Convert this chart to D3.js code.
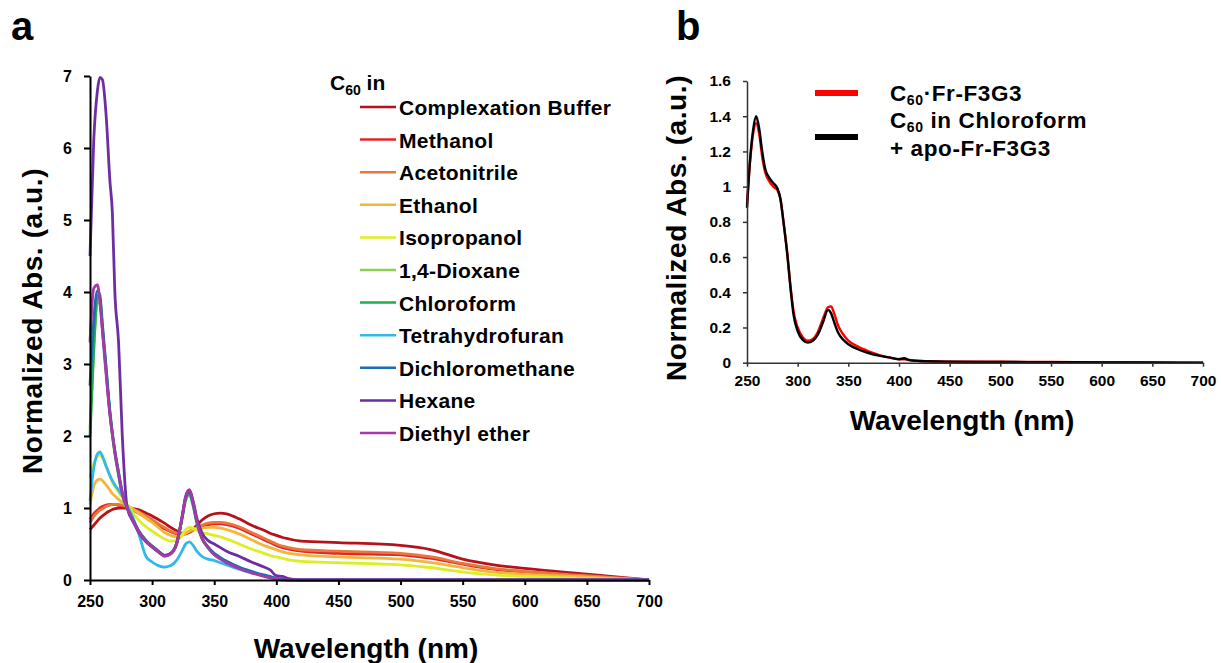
<!DOCTYPE html>
<html>
<head>
<meta charset="utf-8">
<script src="https://cdn.jsdelivr.net/npm/d3@7"></script>
<style>
  body { margin: 0; background: #fff; }
  text { font-family: "Liberation Sans", Arial, sans-serif; font-weight: bold; fill: #000; }
</style>
</head>
<body>
<div id="chart"></div>
<script>
// panel a: shared wavelength grid (nm)
const waveA = [250, 253, 256, 258, 260, 263, 266, 268, 270, 273, 276, 280, 285, 290, 295, 300, 305, 310, 315, 320, 324, 327, 330, 333, 336, 340, 345, 350, 355, 360, 370, 380, 390, 395, 400, 405, 410, 420, 450, 500, 525, 550, 575, 600, 650, 700]

const solvents = ["Complexation Buffer", "Methanol", "Acetonitrile", "Ethanol", "Isopropanol", "1,4-Dioxane", "Chloroform", "Tetrahydrofuran", "Dichloromethane", "Hexane", "Diethyl ether"]
const solventColors = ["#b5121b", "#e3242b", "#e8773c", "#f4b63a", "#dcef22", "#8dcf4f", "#21ad4d", "#33b8ec", "#1b6db4", "#6c2ea2", "#a23ba6"]

const buffer = [0.70, 0.76, 0.82, 0.86, 0.89, 0.93, 0.96, 0.98, 0.99, 1.0, 1.0, 1.0, 0.99, 0.97, 0.93, 0.89, 0.84, 0.79, 0.73, 0.68, 0.65, 0.65, 0.67, 0.71, 0.76, 0.83, 0.89, 0.92, 0.93, 0.92, 0.85, 0.76, 0.69, 0.65, 0.62, 0.59, 0.57, 0.54, 0.52, 0.48, 0.42, 0.29, 0.21, 0.16, 0.08, 0]
const methanol = [0.84, 0.92, 0.97, 1.0, 1.02, 1.04, 1.05, 1.05, 1.05, 1.04, 1.03, 1.01, 0.97, 0.92, 0.87, 0.82, 0.76, 0.71, 0.67, 0.64, 0.63, 0.64, 0.66, 0.69, 0.72, 0.75, 0.77, 0.78, 0.78, 0.77, 0.72, 0.64, 0.56, 0.52, 0.48, 0.45, 0.43, 0.4, 0.37, 0.35, 0.3, 0.22, 0.15, 0.11, 0.05, 0]
const acetonitrile = [0.8, 0.88, 0.94, 0.97, 0.99, 1.02, 1.04, 1.05, 1.05, 1.05, 1.04, 1.02, 0.98, 0.94, 0.89, 0.84, 0.78, 0.73, 0.68, 0.65, 0.64, 0.65, 0.67, 0.7, 0.73, 0.76, 0.79, 0.8, 0.8, 0.79, 0.74, 0.66, 0.58, 0.54, 0.5, 0.47, 0.45, 0.42, 0.4, 0.37, 0.32, 0.23, 0.16, 0.12, 0.06, 0]
const ethanol = [1.05, 1.3, 1.39, 1.4, 1.38, 1.32, 1.25, 1.2, 1.17, 1.12, 1.08, 1.04, 0.98, 0.92, 0.86, 0.8, 0.73, 0.66, 0.62, 0.6, 0.62, 0.65, 0.68, 0.7, 0.71, 0.72, 0.73, 0.73, 0.72, 0.7, 0.64, 0.56, 0.48, 0.45, 0.42, 0.39, 0.37, 0.35, 0.32, 0.29, 0.24, 0.17, 0.11, 0.08, 0.04, 0]
const isopropanol = [1.42, 1.62, 1.72, 1.74, 1.7, 1.58, 1.45, 1.36, 1.3, 1.22, 1.15, 1.05, 0.92, 0.82, 0.74, 0.68, 0.62, 0.57, 0.54, 0.55, 0.62, 0.7, 0.73, 0.72, 0.69, 0.66, 0.64, 0.62, 0.6, 0.57, 0.5, 0.43, 0.37, 0.34, 0.32, 0.3, 0.28, 0.26, 0.24, 0.21, 0.17, 0.11, 0.07, 0.05, 0.02, 0]
const dioxane = [2.1, 3.2, 3.85, 3.85, 3.5, 2.9, 2.32, 2.02, 1.76, 1.46, 1.18, 1.0, 0.82, 0.66, 0.55, 0.47, 0.4, 0.34, 0.37, 0.52, 0.84, 1.1, 1.18, 1.03, 0.79, 0.58, 0.45, 0.36, 0.3, 0.25, 0.17, 0.11, 0.06, 0.04, 0.02, 0.01, 0, 0, 0, 0, 0, 0, 0, 0, 0, 0]
const chloroform = [2.0, 3.2, 3.95, 3.9, 3.5, 2.9, 2.32, 2.02, 1.77, 1.46, 1.18, 1.0, 0.82, 0.66, 0.55, 0.47, 0.4, 0.34, 0.37, 0.52, 0.85, 1.12, 1.2, 1.04, 0.8, 0.58, 0.45, 0.36, 0.3, 0.25, 0.17, 0.11, 0.06, 0.04, 0.02, 0.01, 0, 0, 0, 0, 0, 0, 0, 0, 0, 0]
const thf = [1.1, 1.55, 1.75, 1.78, 1.72, 1.58, 1.45, 1.38, 1.32, 1.25, 1.17, 1.03, 0.85, 0.6, 0.33, 0.25, 0.2, 0.18, 0.2, 0.28, 0.4, 0.5, 0.53, 0.48, 0.4, 0.33, 0.29, 0.27, 0.24, 0.21, 0.15, 0.1, 0.06, 0.04, 0.02, 0.01, 0, 0, 0, 0, 0, 0, 0, 0, 0, 0]
const dcm = [2.7, 3.6, 4.02, 3.95, 3.55, 2.95, 2.35, 2.05, 1.8, 1.5, 1.22, 1.0, 0.82, 0.66, 0.55, 0.47, 0.4, 0.34, 0.37, 0.53, 0.86, 1.14, 1.22, 1.06, 0.81, 0.59, 0.46, 0.37, 0.31, 0.26, 0.18, 0.12, 0.07, 0.05, 0.02, 0.01, 0, 0, 0, 0, 0, 0, 0, 0, 0, 0]
const hexane = [4.5, 6.1, 6.8, 6.98, 6.95, 6.45, 5.55, 5.1, 4.0, 3.3, 2.0, 1.0, 0.8, 0.64, 0.53, 0.46, 0.39, 0.34, 0.37, 0.52, 0.86, 1.16, 1.25, 1.1, 0.86, 0.66, 0.55, 0.5, 0.45, 0.4, 0.33, 0.25, 0.18, 0.14, 0.06, 0.05, 0.02, 0, 0, 0, 0, 0, 0, 0, 0, 0]
const ether = [3.3, 4.05, 4.1, 3.85, 3.45, 2.85, 2.3, 2.02, 1.78, 1.48, 1.2, 1.0, 0.81, 0.65, 0.54, 0.46, 0.39, 0.33, 0.36, 0.52, 0.86, 1.15, 1.25, 1.08, 0.82, 0.59, 0.45, 0.35, 0.29, 0.24, 0.16, 0.1, 0.05, 0.03, 0.01, 0, 0, 0, 0, 0, 0, 0, 0, 0, 0, 0]
const seriesA = [buffer, methanol, acetonitrile, ethanol, isopropanol, dioxane, chloroform, thf, dcm, hexane, ether]

const yTicksA = [0, 1, 2, 3, 4, 5, 6, 7]
const xTicks = [250, 300, 350, 400, 450, 500, 550, 600, 650, 700]

// panel b
const waveB = [250, 253, 256, 259, 262, 265, 268, 272, 276, 280, 283, 286, 290, 293, 296, 300, 305, 310, 315, 320, 325, 330, 333, 336, 340, 345, 350, 360, 370, 380, 390, 400, 405, 410, 420, 450, 500, 550, 600, 650, 700]
const complexB = [0.9, 1.14, 1.3, 1.36, 1.3, 1.17, 1.08, 1.03, 1.0, 0.98, 0.93, 0.8, 0.61, 0.43, 0.29, 0.2, 0.145, 0.125, 0.135, 0.175, 0.25, 0.315, 0.32, 0.28, 0.21, 0.16, 0.125, 0.09, 0.065, 0.045, 0.03, 0.02, 0.02, 0.015, 0.01, 0.006, 0.005, 0.004, 0.003, 0.002, 0]
const chloroB = [0.88, 1.15, 1.32, 1.4, 1.33, 1.2, 1.1, 1.05, 1.02, 0.99, 0.93, 0.8, 0.6, 0.42, 0.27, 0.18, 0.13, 0.115, 0.125, 0.16, 0.23, 0.3, 0.28, 0.23, 0.17, 0.13, 0.105, 0.075, 0.055, 0.04, 0.03, 0.02, 0.025, 0.015, 0.01, 0.006, 0.004, 0.003, 0.002, 0.001, 0]
const yTicksB = [0, 0.2, 0.4, 0.6, 0.8, 1, 1.2, 1.4, 1.6]

let svg = d3.select("#chart").append("svg").attr("width", 1221).attr("height", 663)

// ---------- panel a ----------
let xA = d3.scaleLinear().domain([250, 700]).range([90, 649])
let yA = d3.scaleLinear().domain([0, 7]).range([580, 76])

let lineA = d3.line()
  .x(d => xA(d[0]))
  .y(d => yA(d[1]))
  .curve(d3.curveMonotoneX)

seriesA.forEach((vals, i) => {
  svg.append("path")
    .datum(waveA.map((w, j) => [w, vals[j]]))
    .attr("d", lineA)
    .attr("fill", "none")
    .attr("stroke", solventColors[i])
    .attr("stroke-width", 2.8)
    .attr("stroke-linejoin", "round")
})

let xAxisA = svg.append("g")
  .attr("transform", "translate(0,580)")
  .call(d3.axisBottom(xA).tickValues(xTicks).tickSize(5).tickSizeOuter(0).tickPadding(11))
let yAxisA = svg.append("g")
  .attr("transform", "translate(90,0)")
  .call(d3.axisLeft(yA).tickValues(yTicksA).tickSize(6).tickSizeOuter(0).tickPadding(12)
    .tickFormat(d3.format("d")))
;[xAxisA, yAxisA].forEach(ax => {
  ax.select(".domain").attr("stroke", "#000").attr("stroke-width", 2)
  ax.selectAll(".tick line").attr("stroke", "#000").attr("stroke-width", 2)
  ax.selectAll("text").style("font-size", "16px").attr("font-family", null)
})

svg.append("text").attr("x", 11).attr("y", 40).style("font-size", "40px").text("a")
svg.append("text")
  .attr("transform", "translate(42,321) rotate(-90)")
  .attr("text-anchor", "middle")
  .style("font-size", "28px")
  .style("letter-spacing", "0.6px")
  .text("Normalized Abs. (a.u.)")
svg.append("text")
  .attr("x", 366).attr("y", 658)
  .attr("text-anchor", "middle")
  .style("font-size", "28px")
  .text("Wavelength (nm)")

// legend a
let legTitle = svg.append("text").attr("x", 330).attr("y", 90).style("font-size", "21px")
legTitle.append("tspan").text("C")
legTitle.append("tspan").attr("dy", 5).style("font-size", "14px").text("60")
legTitle.append("tspan").attr("dy", -5).text(" in")

let legA = svg.append("g")
solvents.forEach((name, i) => {
  let y = 107 + i * 32.6
  legA.append("line")
    .attr("x1", 360).attr("x2", 396)
    .attr("y1", y).attr("y2", y)
    .attr("stroke", solventColors[i])
    .attr("stroke-width", 2.5)
  legA.append("text")
    .attr("x", 399).attr("y", y + 8)
    .style("font-size", "21px")
    .style("letter-spacing", "0.3px")
    .text(name)
})

// ---------- panel b ----------
let xB = d3.scaleLinear().domain([250, 700]).range([747, 1203])
let yB = d3.scaleLinear().domain([0, 1.6]).range([362.7, 81])

let lineB = d3.line()
  .x(d => xB(d[0]))
  .y(d => yB(d[1]))
  .curve(d3.curveMonotoneX)

svg.append("path")
  .datum(waveB.map((w, j) => [w, complexB[j]]))
  .attr("d", lineB)
  .attr("fill", "none")
  .attr("stroke", "#ff0000")
  .attr("stroke-width", 2.4)
svg.append("path")
  .datum(waveB.map((w, j) => [w, chloroB[j]]))
  .attr("d", lineB)
  .attr("fill", "none")
  .attr("stroke", "#000")
  .attr("stroke-width", 2.4)

let xAxisB = svg.append("g")
  .attr("transform", "translate(0,362.7)")
  .call(d3.axisBottom(xB).tickValues(xTicks).tickSize(4).tickSizeOuter(0).tickPadding(8))
let yAxisB = svg.append("g")
  .attr("transform", "translate(747,0)")
  .call(d3.axisLeft(yB).tickValues(yTicksB).tickSize(4).tickSizeOuter(0).tickPadding(12)
    .tickFormat(d => String(+d.toFixed(1))))
;[xAxisB, yAxisB].forEach(ax => {
  ax.select(".domain").attr("stroke", "#333").attr("stroke-width", 1.5)
  ax.selectAll(".tick line").attr("stroke", "#333").attr("stroke-width", 1.5)
  ax.selectAll("text").style("font-size", "15.5px").attr("font-family", null)
})

svg.append("text").attr("x", 676).attr("y", 40).style("font-size", "40px").text("b")
svg.append("text")
  .attr("transform", "translate(686,228) rotate(-90)")
  .attr("text-anchor", "middle")
  .style("font-size", "28px")
  .style("letter-spacing", "0.6px")
  .text("Normalized Abs. (a.u.)")
svg.append("text")
  .attr("x", 962).attr("y", 430)
  .attr("text-anchor", "middle")
  .style("font-size", "28px")
  .text("Wavelength (nm)")

// legend b
svg.append("line").attr("x1", 815).attr("x2", 858).attr("y1", 93).attr("y2", 93)
  .attr("stroke", "#ff0000").attr("stroke-width", 6)
svg.append("line").attr("x1", 815).attr("x2", 858).attr("y1", 137).attr("y2", 137)
  .attr("stroke", "#000").attr("stroke-width", 6)

let lb1 = svg.append("text").attr("x", 890).attr("y", 101)
  .style("font-size", "22.5px").style("letter-spacing", "0.6px")
lb1.append("tspan").text("C")
lb1.append("tspan").attr("dy", 4).style("font-size", "14px").text("60")
lb1.append("tspan").attr("dy", -4).text("·Fr-F3G3")
let lb2 = svg.append("text").attr("x", 890).attr("y", 128)
  .style("font-size", "22.5px").style("letter-spacing", "0.6px")
lb2.append("tspan").text("C")
lb2.append("tspan").attr("dy", 4).style("font-size", "14px").text("60")
lb2.append("tspan").attr("dy", -4).text(" in Chloroform")
svg.append("text").attr("x", 890).attr("y", 156)
  .style("font-size", "22.5px").style("letter-spacing", "0.6px")
  .text("+ apo-Fr-F3G3")
</script>
</body>
</html>
